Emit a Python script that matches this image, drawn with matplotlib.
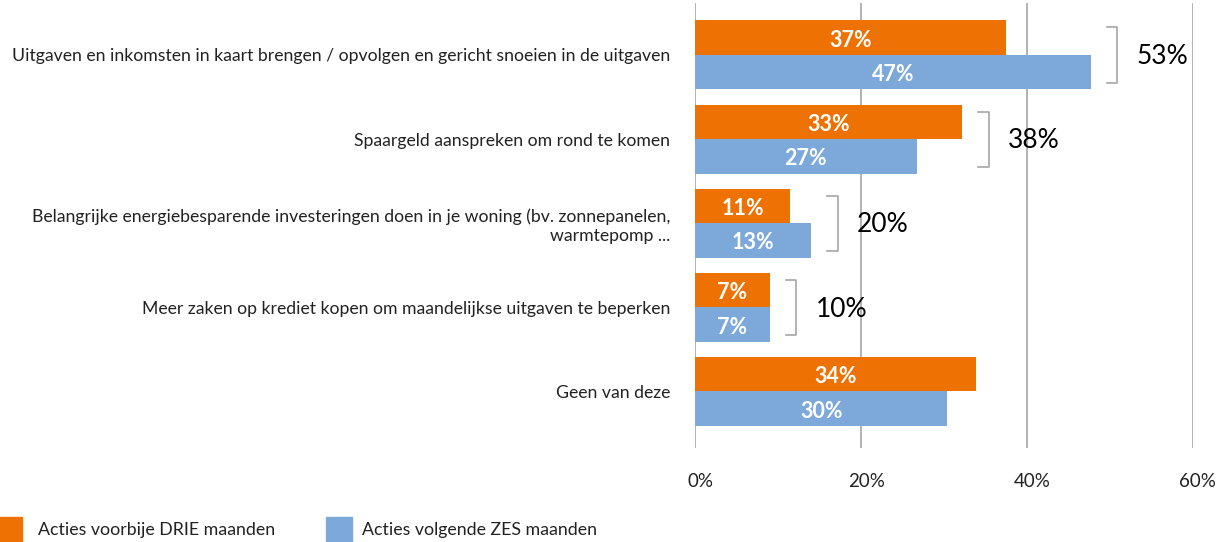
import numpy as np
import matplotlib
matplotlib.use('Agg')
import matplotlib.pyplot as plt
import matplotlib.transforms as mtransforms
from matplotlib.patches import Rectangle

plt.rcParams['font.family'] = ['Lato', 'DejaVu Sans']

categories = ['Uitgaven en inkomsten in kaart brengen / opvolgen en gericht snoeien in de uitgaven',
              'Spaargeld aanspreken om rond te komen',
              'Belangrijke energiebesparende investeringen doen in je woning (bv. zonnepanelen,\nwarmtepomp ...',
              'Meer zaken op krediet kopen om maandelijkse uitgaven te beperken',
              'Geen van deze']
past = [37.5, 32.2, 11.4, 9.0, 33.9]
upcoming = [47.7, 26.7, 14.0, 9.0, 30.4]
past_labels = ['37%', '33%', '11%', '7%', '34%']
upcoming_labels = ['47%', '27%', '13%', '7%', '30%']
totals = ['53%', '38%', '20%', '10%', None]
series_names = ['Acties voorbije DRIE maanden', 'Acties volgende ZES maanden']

orange = '#EE7203'
blue = '#7DA9DA'
grey = '#A6A6A6'

W, H = 1226, 542
fig = plt.figure(figsize=(W / 100, H / 100), dpi=100)
ax = fig.add_axes([0.567, 0.1734, 0.973 - 0.567, 0.9945 - 0.1734])

y = np.arange(len(categories))
h = 0.41
ax.barh(y - h / 2, past, height=h, color=orange, zorder=2)
ax.barh(y + h / 2, upcoming, height=h, color=blue, zorder=2)

# white labels inside the bars
for i in range(len(categories)):
    ax.text(past[i] / 2, y[i] - h / 2 + 0.03, past_labels[i], ha='center', va='center',
            color='white', fontsize=15.5, fontweight='bold', zorder=3)
    ax.text(upcoming[i] / 2, y[i] + h / 2 + 0.03, upcoming_labels[i], ha='center', va='center',
            color='white', fontsize=15.5, fontweight='bold', zorder=3)

# brackets with totals
for i, t in enumerate(totals):
    if t is None:
        continue
    x0 = max(past[i], upcoming[i]) + 1.9
    x1 = x0 + 1.3
    top = y[i] - h * 0.8
    bot = y[i] + h * 0.8
    ax.plot([x0, x1, x1, x0], [top, top, bot, bot], color=grey, lw=1.2, zorder=3,
            clip_on=False)
    ax.text(x1 + 2.3, y[i] + 0.02, t, ha='left', va='center', fontsize=19, color='black',
            zorder=4, clip_on=False)

ax.set_xlim(0, 60)
ax.set_ylim(len(categories) - 1 + 0.672, -0.618)
ax.set_xticks([0, 20, 40, 60])
ax.set_xticklabels(['0%', '20%', '40%', '60%'], fontsize=13.5, color='#222222')
ax.set_yticks(y)
ax.set_yticklabels(categories, fontsize=12.7, color='#222222', ha='right')
ax.tick_params(axis='y', length=0, pad=18)
ax.tick_params(axis='x', length=0, pad=18)
shift = mtransforms.ScaledTranslation(5 / 100, 0, fig.dpi_scale_trans)
for lab in ax.get_xticklabels():
    lab.set_transform(lab.get_transform() + shift)
ax.xaxis.grid(True, color=grey, lw=1.2, zorder=0)
for s in ax.spines.values():
    s.set_visible(False)

# legend drawn by hand: square swatch + label
for colour, name, left, tx in zip([orange, blue], series_names, [-4, 326], [38, 362]):
    fig.add_artist(Rectangle((left / W, -1 / H), 26 / W, 26 / H, color=colour,
                             transform=fig.transFigure))
    fig.text(tx / W, 1 - 530 / H, name, ha='left', va='center',
             fontsize=12.8, color='#222222')

fig.savefig('out.png', dpi=100)
